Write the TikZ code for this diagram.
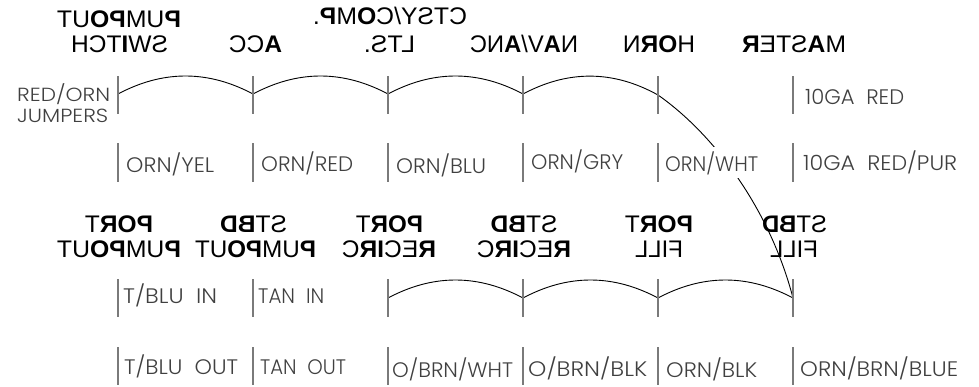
\documentclass[tikz,border=0pt]{standalone}
\usepackage{graphicx}
\usepackage{fontspec}
\setmainfont{Liberation Sans}
\newfontfamily\thinf{Poppins Light}
\newcommand{\hd}[2]{\reflectbox{\resizebox{#1pt}{\height}{\fontsize{24}{24}\selectfont #2}}}
\newcommand{\lb}[2]{\resizebox{#1pt}{\height}{\thinf\fontsize{21}{21}\selectfont #2}}
\newcommand{\lbs}[2]{\resizebox{#1pt}{\height}{\thinf\fontsize{19}{19}\selectfont #2}}
\newcommand{\B}[1]{\textbf{#1}}
\tikzset{
  head/.style={inner sep=0pt,anchor=base,text=black},
  wire/.style={inner sep=0pt,anchor=base west,text=black!75},
  tick/.style={draw=black!52,line width=1.3pt},
  jump/.style={draw=black,line width=0.9pt},
}
\begin{document}
\begin{tikzpicture}[x=1pt,y=-1pt]
\useasboundingbox (0,0) rectangle (979,386);
% junction points, upper strip
\coordinate (a1) at (118,94);
\coordinate (a2) at (253,94);
\coordinate (a3) at (388,94);
\coordinate (a4) at (523,94);
\coordinate (a5) at (658,95);
% junction points, lower strip
\coordinate (b3) at (388,298);
\coordinate (b4) at (523,298);
\coordinate (b5) at (658,298);
\coordinate (b6) at (793,298);
% jumpers
\draw[jump] (a1) .. controls (163,70) and (208,70) .. (a2);
\draw[jump] (a2) .. controls (298,70) and (343,70) .. (a3);
\draw[jump] (a3) .. controls (433,70) and (478,70) .. (a4);
\draw[jump] (a4) .. controls (568,70) and (613,70) .. (a5);
\draw[jump] (a5) .. controls (715,135) and (770,210) .. (b6);
\draw[jump] (b3) .. controls (433,274) and (478,274) .. (b4);
\draw[jump] (b4) .. controls (568,274) and (613,274) .. (b5);
\draw[jump] (b5) .. controls (703,274) and (748,274) .. (b6);
% white mask behind the label the long jumper passes
\fill[white] (661,147) rectangle (764,178);
% terminal ticks
\foreach \x in {118,253,388,523,658,793}{
  \draw[tick] (\x,76) -- (\x,114);
  \draw[tick] (\x,143) -- (\x,182);
  \draw[tick] (\x,279) -- (\x,317);
  \draw[tick] (\x,347) -- (\x,385);
}
% upper headings
\node[head] (h1) at (119,27) {\hd{124}{\B{P}UM\B{PO}UT}};
\node[head] (h2) at (119.5,52) {\hd{97}{SW\B{I}TCH}};
\node[head] (h3) at (255.5,52) {\hd{53}{\B{A}CC}};
\node[head] (h4) at (390,24) {\hd{154}{CTSY/C\B{O}M\B{P}.}};
\node[head] (h5) at (389.5,52) {\hd{51}{LTS.}};
\node[head] (h6) at (524,52) {\hd{108}{N\B{A}V/\B{A}NC}};
\node[head] (h7) at (659,52) {\hd{72}{H\B{OR}N}};
\node[head] (h8) at (794,52) {\hd{104}{M\B{A}STE\B{R}}};
% lower headings
\node[head] (k1) at (119,232) {\hd{68}{\B{POR}T}};
\node[head] (k2) at (119,257) {\hd{124}{\B{P}UM\B{PO}UT}};
\node[head] (k3) at (253.5,232) {\hd{67}{ST\B{BD}}};
\node[head] (k4) at (255.5,257) {\hd{121}{\B{P}UM\B{PO}UT}};
\node[head] (k5) at (389.5,232) {\hd{67}{\B{POR}T}};
\node[head] (k6) at (389,257) {\hd{94}{\B{R}EC\B{IR}C}};
\node[head] (k7) at (524,232) {\hd{67}{ST\B{BD}}};
\node[head] (k8) at (524,257) {\hd{94}{\B{R}EC\B{IR}C}};
\node[head] (k9) at (659,232) {\hd{68}{\B{POR}T}};
\node[head] (k10) at (659,257) {\hd{48}{FILL}};
\node[head] (k11) at (794.5,232) {\hd{65}{ST\B{BD}}};
\node[head] (k12) at (794,257) {\hd{48}{FILL}};
% wire labels
\node[wire] (j1) at (17,101.5) {\lbs{93}{RED/ORN}};
\node[wire] (j2) at (17,122) {\lbs{91}{JUMPERS}};
\node[wire] (r1) at (805,104) {\lb{99}{10GA\ \ RED}};
\node[wire] (l1) at (126,172) {\lb{88}{ORN/YEL}};
\node[wire] (l2) at (261,171) {\lb{92}{ORN/RED}};
\node[wire] (l3) at (396,173) {\lb{90}{ORN/BLU}};
\node[wire] (l4) at (531,169) {\lb{92}{ORN/GRY}};
\node[wire] (l5) at (665,171) {\lb{93}{ORN/WHT}};
\node[wire] (l6) at (803,170) {\lb{154}{10GA\ \ RED/PUR}};
\node[wire] (m1) at (123,303) {\lb{94}{T/BLU\ \ IN}};
\node[wire] (m2) at (258,303) {\lb{66}{TAN\ \ IN}};
\node[wire] (n1) at (124,374) {\lb{114}{T/BLU\ \ OUT}};
\node[wire] (n2) at (260,374) {\lb{86}{TAN\ \ OUT}};
\node[wire] (n3) at (392,377) {\lb{121}{O/BRN/WHT}};
\node[wire] (n4) at (528,376) {\lb{119}{O/BRN/BLK}};
\node[wire] (n5) at (666,377) {\lb{91}{ORN/BLK}};
\node[wire] (n6) at (800,376) {\lb{158}{ORN/BRN/BLUE}};
\end{tikzpicture}
\end{document}
